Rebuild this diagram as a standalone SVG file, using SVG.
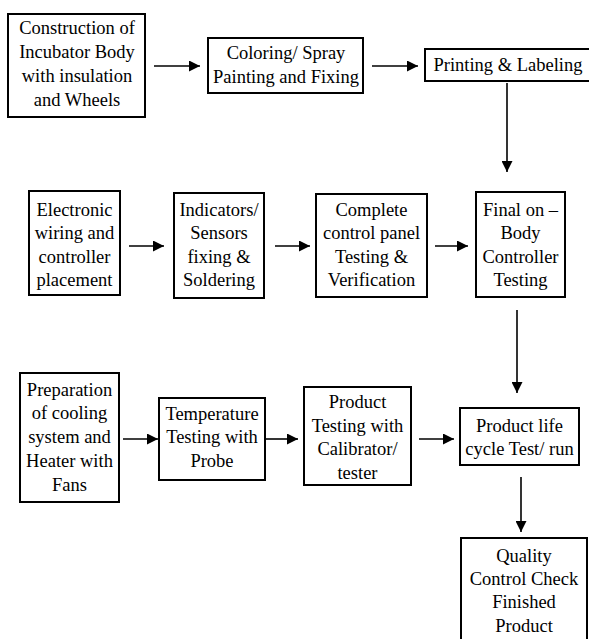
<svg xmlns="http://www.w3.org/2000/svg" width="589" height="639" viewBox="0 0 589 639">
<style>
.box{fill:#fff;stroke:#000;stroke-width:2}
.lbl{font-family:'Liberation Serif','Times New Roman',serif;font-size:18.5px;fill:#000;text-anchor:middle}
.c line{stroke:#000;stroke-width:1.6;marker-end:url(#ah)}
</style>
<defs>
<marker id="ah" viewBox="0 0 10 10" refX="10" refY="5" markerWidth="11" markerHeight="11" markerUnits="userSpaceOnUse" orient="auto">
<path d="M0,0L10,5L0,10z" fill="#000"/>
</marker>
</defs>
<rect width="589" height="639" fill="#fff"/>
<g class="lbl">
<g id="n1"><rect class="box" x="8" y="14" width="137" height="103"/>
<text x="77" y="34">Construction of</text><text x="77" y="58">Incubator Body</text><text x="77" y="82">with insulation</text><text x="77" y="106">and Wheels</text></g>
<g id="n2"><rect class="box" x="208" y="38" width="155" height="55"/>
<text x="286" y="59">Coloring/ Spray</text><text x="286" y="83">Painting and Fixing</text></g>
<g id="n3"><rect class="box" x="425" y="49" width="170" height="32"/>
<text x="508" y="71">Printing &amp; Labeling</text></g>
<g id="n4"><rect class="box" x="29" y="191" width="91" height="104"/>
<text x="74.5" y="216">Electronic</text><text x="74.5" y="239">wiring and</text><text x="74.5" y="263">controller</text><text x="74.5" y="286">placement</text></g>
<g id="n5"><rect class="box" x="174" y="193" width="90" height="105"/>
<text x="219" y="216">Indicators/</text><text x="219" y="239">Sensors</text><text x="219" y="263">fixing &amp;</text><text x="219" y="286">Soldering</text></g>
<g id="n6"><rect class="box" x="316" y="194" width="111" height="103"/>
<text x="371.5" y="216">Complete</text><text x="371.5" y="239">control panel</text><text x="371.5" y="263">Testing &amp;</text><text x="371.5" y="286">Verification</text></g>
<g id="n7"><rect class="box" x="476" y="192" width="89" height="105"/>
<text x="520.5" y="216">Final on –</text><text x="520.5" y="239">Body</text><text x="520.5" y="263">Controller</text><text x="520.5" y="286">Testing</text></g>
<g id="n8"><rect class="box" x="20" y="373" width="99" height="129"/>
<text x="69.5" y="396">Preparation</text><text x="69.5" y="419">of cooling</text><text x="69.5" y="443">system and</text><text x="69.5" y="467">Heater with</text><text x="69.5" y="491">Fans</text></g>
<g id="n9"><rect class="box" x="159" y="398" width="106" height="82"/>
<text x="212" y="420">Temperature</text><text x="212" y="443">Testing with</text><text x="212" y="467">Probe</text></g>
<g id="n10"><rect class="box" x="304" y="387" width="107" height="98"/>
<text x="357.5" y="408">Product</text><text x="357.5" y="432">Testing with</text><text x="357.5" y="455">Calibrator/</text><text x="357.5" y="479">tester</text></g>
<g id="n11"><rect class="box" x="460" y="408" width="119" height="57"/>
<text x="519.5" y="432">Product life</text><text x="519.5" y="455">cycle Test/ run</text></g>
<g id="n12"><rect class="box" x="461" y="538" width="126" height="110"/>
<text x="524" y="562">Quality</text><text x="524" y="585">Control Check</text><text x="524" y="608">Finished</text><text x="524" y="632">Product</text></g>
</g>
<g id="connectors" class="c">
<line x1="154" y1="66" x2="200" y2="66"/>
<line x1="372" y1="66" x2="418" y2="66"/>
<line x1="507" y1="83" x2="507" y2="172"/>
<line x1="129" y1="246" x2="164" y2="246"/>
<line x1="275" y1="246" x2="310" y2="246"/>
<line x1="435" y1="246" x2="468" y2="246"/>
<line x1="517" y1="310" x2="517" y2="393"/>
<line x1="123" y1="439" x2="158" y2="439"/>
<line x1="266" y1="439" x2="298" y2="439"/>
<line x1="419" y1="439" x2="454" y2="439"/>
<line x1="521" y1="477" x2="521" y2="532"/>
</g>
</svg>
